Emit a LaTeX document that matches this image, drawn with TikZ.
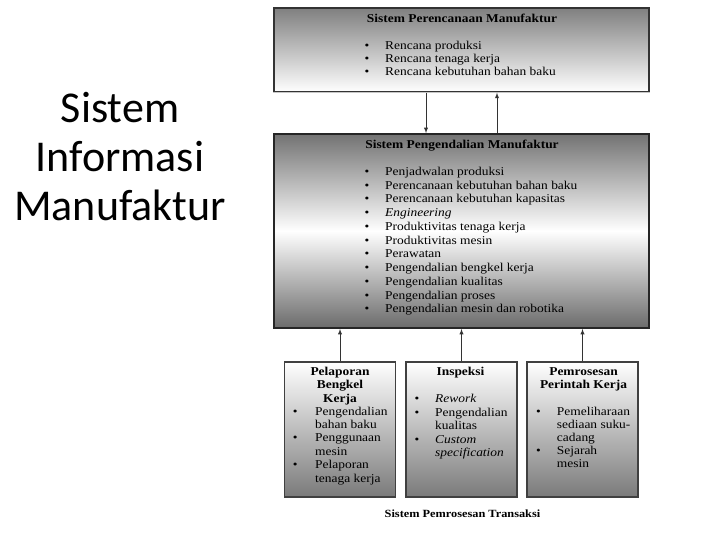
\documentclass[tikz,border=0pt]{standalone}
\usepackage{fontspec}
\setmainfont[FakeStretch=1.12]{Liberation Serif}
\newfontfamily\slidefont{Carlito}
\usetikzlibrary{arrows,positioning,calc}

\begin{document}
\begin{tikzpicture}[x=1pt,y=-1pt,>=latex,
  plan/.style={rectangle,draw=black!80,line width=1.4pt,top color=black!50,bottom color=white,
    minimum width=375pt,minimum height=84pt,inner sep=0pt},
  ctrl/.style={rectangle,draw=black!85,line width=1.8pt,top color=black!55,bottom color=black!58,middle color=white,
    minimum width=375pt,minimum height=194pt,inner sep=0pt},
  trx/.style={rectangle,draw=black!75,line width=1.2pt,top color=white,bottom color=black!52,
    minimum width=111pt,minimum height=135pt,inner sep=0pt},
  hd/.style={font=\fontsize{12}{13.8}\selectfont\bfseries,inner sep=0pt,anchor=base},
  ls/.style={font=\fontsize{12}{#1}\selectfont,inner sep=0pt,anchor=base west},
  hds/.style={font=\fontsize{12}{13.4}\selectfont\bfseries,inner sep=0pt,anchor=base},
  ar/.style={->,black!80,line width=0.9pt},
  ]
  \useasboundingbox (0,0) rectangle (720,540);

  \node at (120,157) [font=\slidefont\fontsize{44}{49}\selectfont,align=center] (ttl) {Sistem\\Informasi\\Manufaktur};

  % upper level
  \node at (461.5,50) [plan] (pl) {};
  \draw[gray!45,line width=1.2pt] (pl.south west) -- (pl.south east);
  \node at (462,23) [hd] (plh) {Sistem Perencanaan Manufaktur};
  \node at (364.5,50) [ls=13] (pll) {\begin{tabular}[t]{@{}p{20.5pt}@{}l@{}}
    \textbullet & Rencana produksi\\
    \textbullet & Rencana tenaga kerja\\
    \textbullet & Rencana kebutuhan bahan baku
  \end{tabular}};

  % middle level
  \node at (461.5,231) [ctrl] (ct) {};
  \node at (462,148.3) [hd] (cth) {Sistem Pengendalian Manufaktur};
  \node at (364.5,175.3) [ls=13.77] (ctl) {\begin{tabular}[t]{@{}p{20.5pt}@{}l@{}}
    \textbullet & Penjadwalan produksi\\
    \textbullet & Perencanaan kebutuhan bahan baku\\
    \textbullet & Perencanaan kebutuhan kapasitas\\
    \textbullet & \textit{Engineering}\\
    \textbullet & Produktivitas tenaga kerja\\
    \textbullet & Produktivitas mesin\\
    \textbullet & Perawatan\\
    \textbullet & Pengendalian bengkel kerja\\
    \textbullet & Pengendalian kualitas\\
    \textbullet & Pengendalian proses\\
    \textbullet & Pengendalian mesin dan robotika
  \end{tabular}};

  \draw[ar] ([xshift=-35.5pt]pl.south) -- ([xshift=-35.5pt]ct.north);
  \draw[ar] ([xshift=35.5pt]ct.north) -- ([xshift=35.5pt]pl.south);

  % transaction level
  \node at (340,429.5) [trx] (bk) {};
  \node at (461.5,429.5) [trx] (insp) {};
  \node at (582.5,429.5) [trx] (po) {};

  \node at (340,375.5) [hds] (bkh) {\begin{tabular}[t]{@{}c@{}}Pelaporan\\Bengkel\\Kerja\end{tabular}};
  \node at (292.7,415) [ls=13.4] (bkl) {\begin{tabular}[t]{@{}p{22.3pt}@{}l@{}}
    \textbullet & Pengendalian\\
                & bahan baku\\
    \textbullet & Penggunaan\\
                & mesin\\
    \textbullet & Pelaporan\\
                & tenaga kerja
  \end{tabular}};

  \node at (460.5,375.5) [hds] (insph) {Inspeksi};
  \node at (414.4,402.5) [ls=13.6] (inspl) {\begin{tabular}[t]{@{}p{20.6pt}@{}l@{}}
    \textbullet & \textit{Rework}\\
    \textbullet & Pengendalian\\
                & kualitas\\
    \textbullet & \textit{Custom}\\
                & \textit{specification}
  \end{tabular}};

  \node at (583.5,375.5) [hds] (poh) {\begin{tabular}[t]{@{}c@{}}Pemrosesan\\Perintah Kerja\end{tabular}};
  \node at (536,415) [ls=13.1] (pol) {\begin{tabular}[t]{@{}p{20.7pt}@{}l@{}}
    \textbullet & Pemeliharaan\\
                & sediaan suku-\\
                & cadang\\
    \textbullet & Sejarah\\
                & mesin
  \end{tabular}};

  \draw[ar] (bk.north) -- (bk.north |- ct.south);
  \draw[ar] (insp.north) -- (insp.north |- ct.south);
  \draw[ar] (po.north) -- (po.north |- ct.south);

  \node at (462.5,517.3) [font=\fontsize{11}{13}\selectfont\bfseries,inner sep=0pt,anchor=base] (trl) {Sistem Pemrosesan Transaksi};
\end{tikzpicture}
\end{document}
